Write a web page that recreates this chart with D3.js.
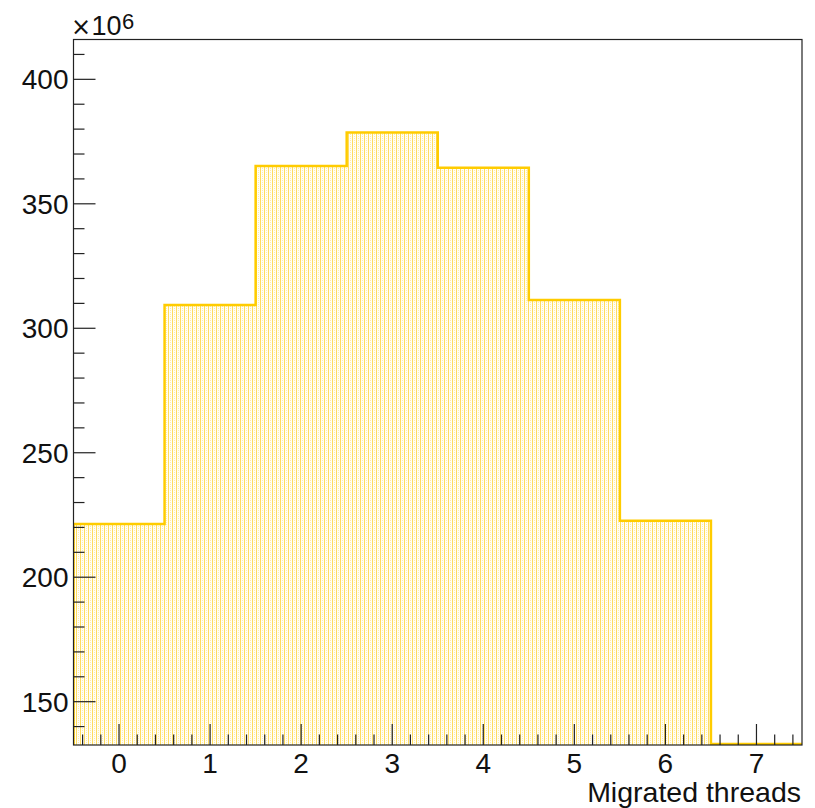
<!DOCTYPE html>
<html>
<head>
<meta charset="utf-8">
<script src="https://cdn.jsdelivr.net/npm/d3@7"></script>
<style>
  html, body { margin: 0; padding: 0; background: #fff; }
  svg { display: block; font-family: "Liberation Sans", Arial, Helvetica, sans-serif; }
</style>
</head>
<body>
<svg id="chart" width="815" height="808"></svg>
<script>
// Histogram of migrated threads (counts in units of 10^6)
const bins = [0, 1, 2, 3, 4, 5, 6, 7];
const counts = [221.4, 309.3, 365.2, 378.6, 364.5, 311.4, 222.7, 0];
const xTicks = [0, 1, 2, 3, 4, 5, 6, 7];
const yTicks = [150, 200, 250, 300, 350, 400];
const xTitle = "Migrated threads";

const frame = { left: 73.5, right: 802, top: 39.5, bottom: 745 };

const svg = d3.select("#chart");

const x = d3.scaleLinear().domain([-0.5, 7.5]).range([frame.left, frame.right]);
const y = d3.scaleLinear().domain([132.6, 416]).range([frame.bottom, frame.top]);

// dotted fill pattern
const defs = svg.append("defs");
const pat = defs.append("pattern")
  .attr("id", "dots")
  .attr("patternUnits", "userSpaceOnUse")
  .attr("width", 4).attr("height", 2);
pat.append("rect").attr("width", 4).attr("height", 2).attr("fill", "#fffef6");
pat.append("rect").attr("x", 0).attr("y", 0).attr("width", 1).attr("height", 2).attr("fill", "#ffdc60");
pat.append("rect").attr("x", 2).attr("y", 0).attr("width", 1).attr("height", 1).attr("fill", "#ffecaa");

const clip = defs.append("clipPath").attr("id", "frameClip");
clip.append("rect")
  .attr("x", frame.left).attr("y", frame.top)
  .attr("width", frame.right - frame.left).attr("height", frame.bottom - frame.top);

// step outline of the histogram
const pts = [];
bins.forEach((b, i) => {
  pts.push([x(b - 0.5), y(counts[i])]);
  pts.push([x(b + 0.5), y(counts[i])]);
});
const y0 = y.domain()[0];
const area = [[x(bins[0] - 0.5), y(y0)], ...pts, [x(bins[bins.length - 1] + 0.5), y(y0)]];

const g = svg.append("g").attr("clip-path", "url(#frameClip)");
g.append("path")
  .attr("d", d3.line()(area) + "Z")
  .attr("fill", "url(#dots)")
  .attr("stroke", "none");

// outline, clamped to the frame bottom
const outline = [[x(bins[0] - 0.5), y(y0)], ...pts.map(p => [p[0], Math.min(p[1], frame.bottom - 1)]), [x(bins[bins.length - 1] + 0.5), y(y0)]];
g.append("path")
  .attr("d", d3.line()(outline))
  .attr("fill", "none")
  .attr("stroke", "#ffcc00")
  .attr("stroke-width", 2.5);

// frame
svg.append("rect")
  .attr("x", frame.left).attr("y", frame.top)
  .attr("width", frame.right - frame.left).attr("height", frame.bottom - frame.top)
  .attr("fill", "none").attr("stroke", "#222").attr("stroke-width", 1.2);

// y axis ticks (major every 50, minor every 10)
const yMinor = d3.range(140, 416, 10);
const yAxis = svg.append("g");
yMinor.forEach(v => {
  const major = v % 50 === 0;
  yAxis.append("line")
    .attr("x1", frame.left).attr("x2", frame.left + (major ? 22 : 11))
    .attr("y1", y(v)).attr("y2", y(v))
    .attr("stroke", "#222").attr("stroke-width", 1.2);
});
yAxis.selectAll("text").data(yTicks).join("text")
  .attr("x", frame.left - 5)
  .attr("y", d => y(d))
  .attr("dy", "0.36em")
  .attr("text-anchor", "end")
  .attr("font-size", 28)
  .attr("fill", "#111")
  .text(d => d);

// x axis ticks (major every 1, minor every 0.2)
const xMinor = d3.range(-0.4, 7.5, 0.2).map(v => Math.round(v * 10) / 10);
const xAxis = svg.append("g");
xMinor.forEach(v => {
  const major = Math.abs(v - Math.round(v)) < 1e-6;
  xAxis.append("line")
    .attr("x1", x(v)).attr("x2", x(v))
    .attr("y1", frame.bottom).attr("y2", frame.bottom - (major ? 21 : 10.5))
    .attr("stroke", "#222").attr("stroke-width", 1.2);
});
xAxis.selectAll("text").data(xTicks).join("text")
  .attr("x", d => x(d))
  .attr("y", 773)
  .attr("text-anchor", "middle")
  .attr("font-size", 28)
  .attr("fill", "#111")
  .text(d => d);

// axis title
svg.append("text")
  .attr("x", 801).attr("y", 802)
  .attr("text-anchor", "end")
  .attr("font-size", 28.5)
  .attr("fill", "#111")
  .text(xTitle);

// exponent label
const expo = svg.append("text")
  .attr("y", 35)
  .attr("font-size", 27)
  .attr("fill", "#111");
expo.append("tspan").attr("x", 71).attr("font-family", "DejaVu Sans").attr("font-size", 24).text("\u00d7");
expo.append("tspan").attr("x", 91.5).text("10");
expo.append("tspan").attr("x", 122).attr("y", 29).attr("font-size", 22).text("6");
</script>
</body>
</html>
